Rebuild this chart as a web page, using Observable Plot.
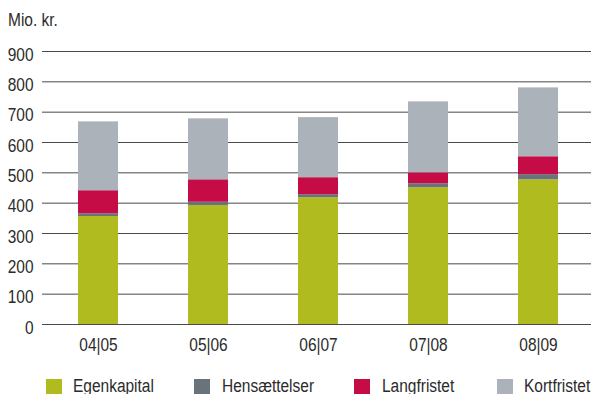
<!DOCTYPE html>
<html>
<head>
<meta charset="utf-8">
<script src="https://cdn.jsdelivr.net/npm/d3@7"></script>
<script src="https://cdn.jsdelivr.net/npm/@observablehq/plot@0.6"></script>
<style>
  html, body { margin: 0; padding: 0; background: #fff; }
  #wrap { position: relative; width: 591px; height: 394px; overflow: hidden;
          font-family: "Liberation Sans", Arial, sans-serif; color: #2b2b2b; }
  #unit { position: absolute; left: 8px; top: 11px; font-size: 18px; line-height: 18px;
          transform: scaleX(0.86); transform-origin: 0 0; white-space: nowrap; }
  .sw { position: absolute; top: 379px; width: 16px; height: 16px; }
  .lt { position: absolute; top: 377px; font-size: 18px; line-height: 18px; white-space: nowrap;
        transform: scaleX(0.86); transform-origin: 0 0; }
  #chart { position: absolute; left: 0; top: 0; }
</style>
</head>
<body>
<div id="wrap">
  <div id="chart"></div>
  <div id="unit">Mio. kr.</div>
  <div id="legend"></div>
</div>
<script>
const years = ["04|05", "05|06", "06|07", "07|08", "08|09"];
const seriesNames = ["Egenkapital", "Hensættelser", "Langfristet", "Kortfristet"];
const egenkapital = [356, 392, 418, 451, 477];
const hensaettelser = [9, 11, 10, 13, 17];
const langfristet = [76, 74, 56, 36, 59];
const kortfristet = [227, 201, 198, 234, 227];
const colors = ["#b0bb1f", "#68737a", "#c60c46", "#abb2b9"];
const yTicks = [0, 100, 200, 300, 400, 500, 600, 700, 800, 900];

const seriesValues = [egenkapital, hensaettelser, langfristet, kortfristet];
const data = [];
years.forEach((yr, i) => {
  seriesNames.forEach((s, j) => data.push({year: yr, series: s, value: seriesValues[j][i]}));
});

const plot = Plot.plot({
  width: 591,
  height: 365,
  marginTop: 51,
  marginBottom: 41,
  marginLeft: 42,
  marginRight: 0,
  style: {fontFamily: '"Liberation Sans", Arial, sans-serif', fontSize: "18px", color: "#2b2b2b", background: "transparent"},
  x: {domain: years, range: [42, 594], paddingInner: 0.638, paddingOuter: 0.317, label: null},
  y: {domain: [0, 900], label: null},
  color: {domain: seriesNames, range: colors},
  marks: [
    Plot.ruleY(yTicks, {stroke: "#4a4a4a", strokeWidth: 1}),
    Plot.barY(data, {x: "year", y: "value", fill: "series", order: seriesNames}),
    Plot.axisY(yTicks, {tickSize: 0, tickPadding: 9, dy: 3.5, label: null, fontSize: 18, fill: "#2b2b2b"}),
    Plot.axisX({tickSize: 0, tickPadding: 14, label: null, fontSize: 18, fill: "#2b2b2b"})
  ]
});
// condense the tick label glyphs horizontally to match the narrow typeface
plot.querySelectorAll('g[aria-label*="tick label"] text').forEach(t => {
  const tr = t.getAttribute("transform") || "";
  t.setAttribute("transform", tr + " scale(0.86,1)");
});
document.getElementById("chart").appendChild(plot);

const swX = [46, 194, 354, 497];
const txX = [73, 222, 382, 524];
const legend = document.getElementById("legend");
seriesNames.forEach((s, i) => {
  const sw = document.createElement("div");
  sw.className = "sw";
  sw.style.left = swX[i] + "px";
  sw.style.background = colors[i];
  legend.appendChild(sw);
  const t = document.createElement("div");
  t.className = "lt";
  t.style.left = txX[i] + "px";
  t.textContent = s;
  legend.appendChild(t);
});
</script>
</body>
</html>
